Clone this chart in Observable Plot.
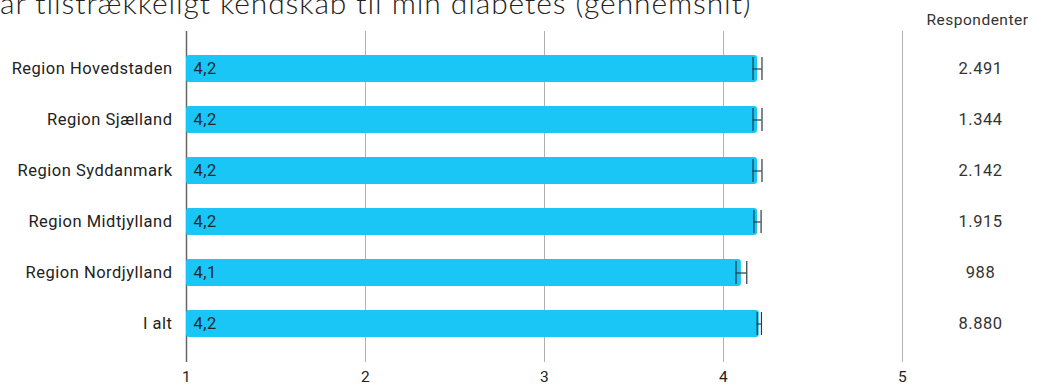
<!DOCTYPE html>
<html>
<head>
<meta charset="utf-8">
<script src="https://cdn.jsdelivr.net/npm/d3@7"></script>
<script src="https://cdn.jsdelivr.net/npm/@observablehq/plot@0.6"></script>
<style>
  html, body { margin: 0; padding: 0; background: #fff; }
  #wrap { position: relative; width: 1046px; height: 385px; overflow: hidden; }
  #title { position: absolute; left: 0; top: -15px; font-family: Lato, sans-serif; font-weight: 300; font-size: 30px; line-height: 34px; color: #222; white-space: nowrap; letter-spacing: 0.9px; }
  #chart { position: absolute; left: 0; top: 0; }
</style>
</head>
<body>
<div id="wrap">
  <div id="title">ar tilstrækkeligt kendskab til min diabetes (gennemsnit)</div>
  <div id="chart"></div>
</div>
<script>
const regions = ["Region Hovedstaden", "Region Sjælland", "Region Syddanmark", "Region Midtjylland", "Region Nordjylland", "I alt"];
const means = [4.19, 4.19, 4.19, 4.19, 4.10, 4.20];
const errors = [0.025, 0.025, 0.025, 0.02, 0.03, 0.012];
const respondents = [2491, 1344, 2142, 1915, 988, 8880];
const xTicks = [1, 2, 3, 4, 5];
const baseline = 1;
const columnHeader = "Respondenter";

const locale = d3.formatLocale({decimal: ",", thousands: ".", grouping: [3], currency: ["", " kr."]});
const fmtMean = locale.format(".1f");
const fmtN = locale.format(",d");

const data = regions.map((r, i) => ({
  region: r, mean: means[i], lo: means[i] - errors[i], hi: means[i] + errors[i], n: respondents[i]
}));

const font = "Roboto, sans-serif";

const chart = Plot.plot({
  width: 1046,
  height: 385,
  marginLeft: 186,
  marginRight: 144,
  marginTop: 31,
  marginBottom: 23,
  style: { fontFamily: font, fontSize: "16px", color: "#333", background: "transparent", letterSpacing: "0.5px" },
  x: { domain: [1, 5], ticks: xTicks, label: null },
  y: { domain: regions, padding: 0.47, label: null },
  marks: [
    Plot.gridX(xTicks.slice(1), { stroke: "#b0b0b0", strokeOpacity: 1, strokeWidth: 1 }),
    Plot.gridX([baseline], { stroke: "#666", strokeOpacity: 1, strokeWidth: 1.5 }),
    Plot.barX(data, { y: "region", x1: () => baseline, x2: "mean", fill: "#1ac6f5", rx: 3 }),
    Plot.ruleY(data, { y: "region", x1: "lo", x2: "hi", stroke: "#2a3a40", strokeWidth: 1.2 }),
    Plot.tickX(data, { y: "region", x: "lo", stroke: "#2a3a40", strokeWidth: 1.2, insetTop: 2, insetBottom: 2 }),
    Plot.tickX(data, { y: "region", x: "hi", stroke: "#2a3a40", strokeWidth: 1.2, insetTop: 2, insetBottom: 2 }),
    Plot.text(data, { y: "region", text: d => fmtMean(d.mean), frameAnchor: "left", textAnchor: "start", dx: 7, fill: "#1e2a30", fontSize: 16.5 }),
    Plot.text(data, { y: "region", text: d => fmtN(d.n), frameAnchor: "right", textAnchor: "middle", dx: 78, fill: "#333", fontSize: 16.5 }),
    Plot.text([columnHeader], { text: d => d, frameAnchor: "top-right", textAnchor: "middle", dx: 75, dy: -18, fill: "#333", fontSize: 15.5 }),
    Plot.axisY({ tickSize: 0, tickPadding: 14, fontSize: 16.5, fill: "#222" }),
    Plot.axisX({ ticks: xTicks, tickSize: 0, tickPadding: 8.5, fontSize: 15.5, fill: "#222", tickFormat: d => String(d) })
  ]
});
document.getElementById("chart").appendChild(chart);
</script>
</body>
</html>
